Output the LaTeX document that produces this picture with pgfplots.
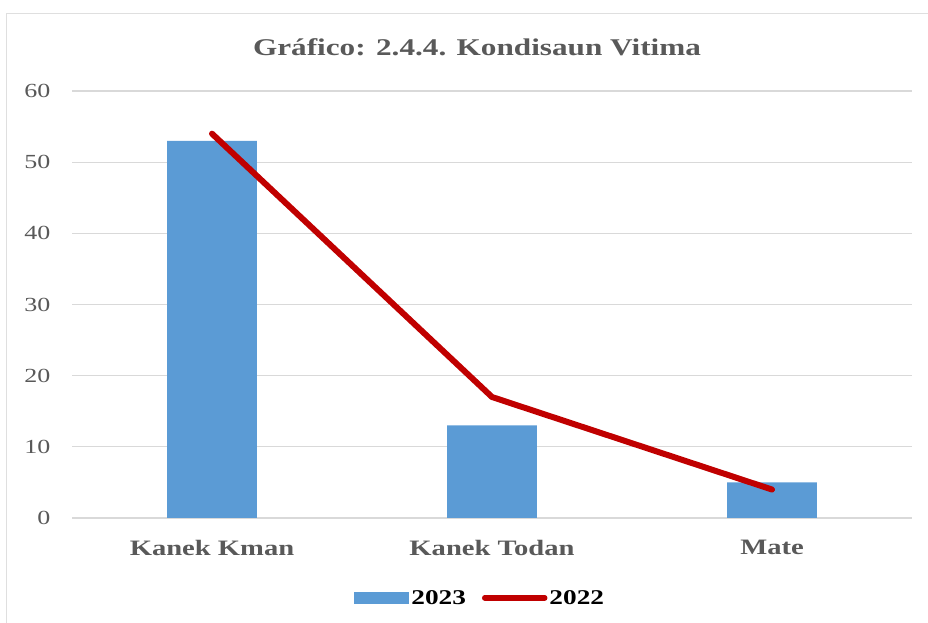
\documentclass[border=0pt]{standalone}
\usepackage{pgfplots}
\pgfplotsset{compat=1.18}
\usepackage{fontspec}
\setmainfont[FakeStretch=1.3]{Liberation Serif}
\definecolor{barblue}{HTML}{5B9BD5}
\definecolor{linered}{HTML}{C00000}
\definecolor{txtgray}{HTML}{595959}
\definecolor{gridgray}{HTML}{D9D9D9}
\begin{document}
\begin{tikzpicture}[x=1bp,y=1bp]
\useasboundingbox (0,0) rectangle (928,623);
\draw[gray!25, line width=1bp] (6,609) rectangle (940,-10);
\node[text=txtgray, font=\fontsize{24bp}{28bp}\selectfont\bfseries] at (477,576) {Gráfico: 2.4.4. Kondisaun Vitima};
\begin{axis}[
  at={(72bp,105bp)}, anchor=south west,
  scale only axis, width=840bp, height=427bp,
  xmin=-0.5, xmax=2.5, ymin=0, ymax=60,
  ytick={0,10,...,60},
  xtick={0,1,2},
  xticklabels={Kanek Kman, Kanek Todan, Mate},
  /pgf/number format/assume math mode=true,
  axis line style={draw=none},
  ymajorgrids, grid style={gridgray, line width=1.2bp},
  major tick length=0pt,
  tick label style={text=txtgray},
  yticklabel style={font=\fontsize{20bp}{24bp}\selectfont, xshift=-18bp},
  xticklabel style={font=\fontsize{22bp}{25bp}\selectfont\bfseries, yshift=-19bp},
  legend style={at={(axis description cs:0.486,-0.187)}, anchor=center, draw=none,
    font=\fontsize{21bp}{24bp}\selectfont\bfseries, legend columns=2,
    /tikz/every even column/.append style={column sep=14bp}},
  clip=false,
]
\addplot[ybar, bar width=0.32, fill=barblue, draw=none,
  legend image code/.code={\fill[barblue] (0bp,-6bp) rectangle (55bp,6bp);}]
  coordinates {(0,53) (1,13) (2,5)};
\addlegendentry{2023}
\addplot[linered, line width=6bp, line cap=round, line join=round,
  legend image code/.code={\draw[linered, line width=5.5bp, line cap=round] (0bp,0bp) -- (60bp,0bp);}]
  coordinates {(0,54) (1,17) (2,4)};
\addlegendentry{2022}
\end{axis}
\end{tikzpicture}
\end{document}
